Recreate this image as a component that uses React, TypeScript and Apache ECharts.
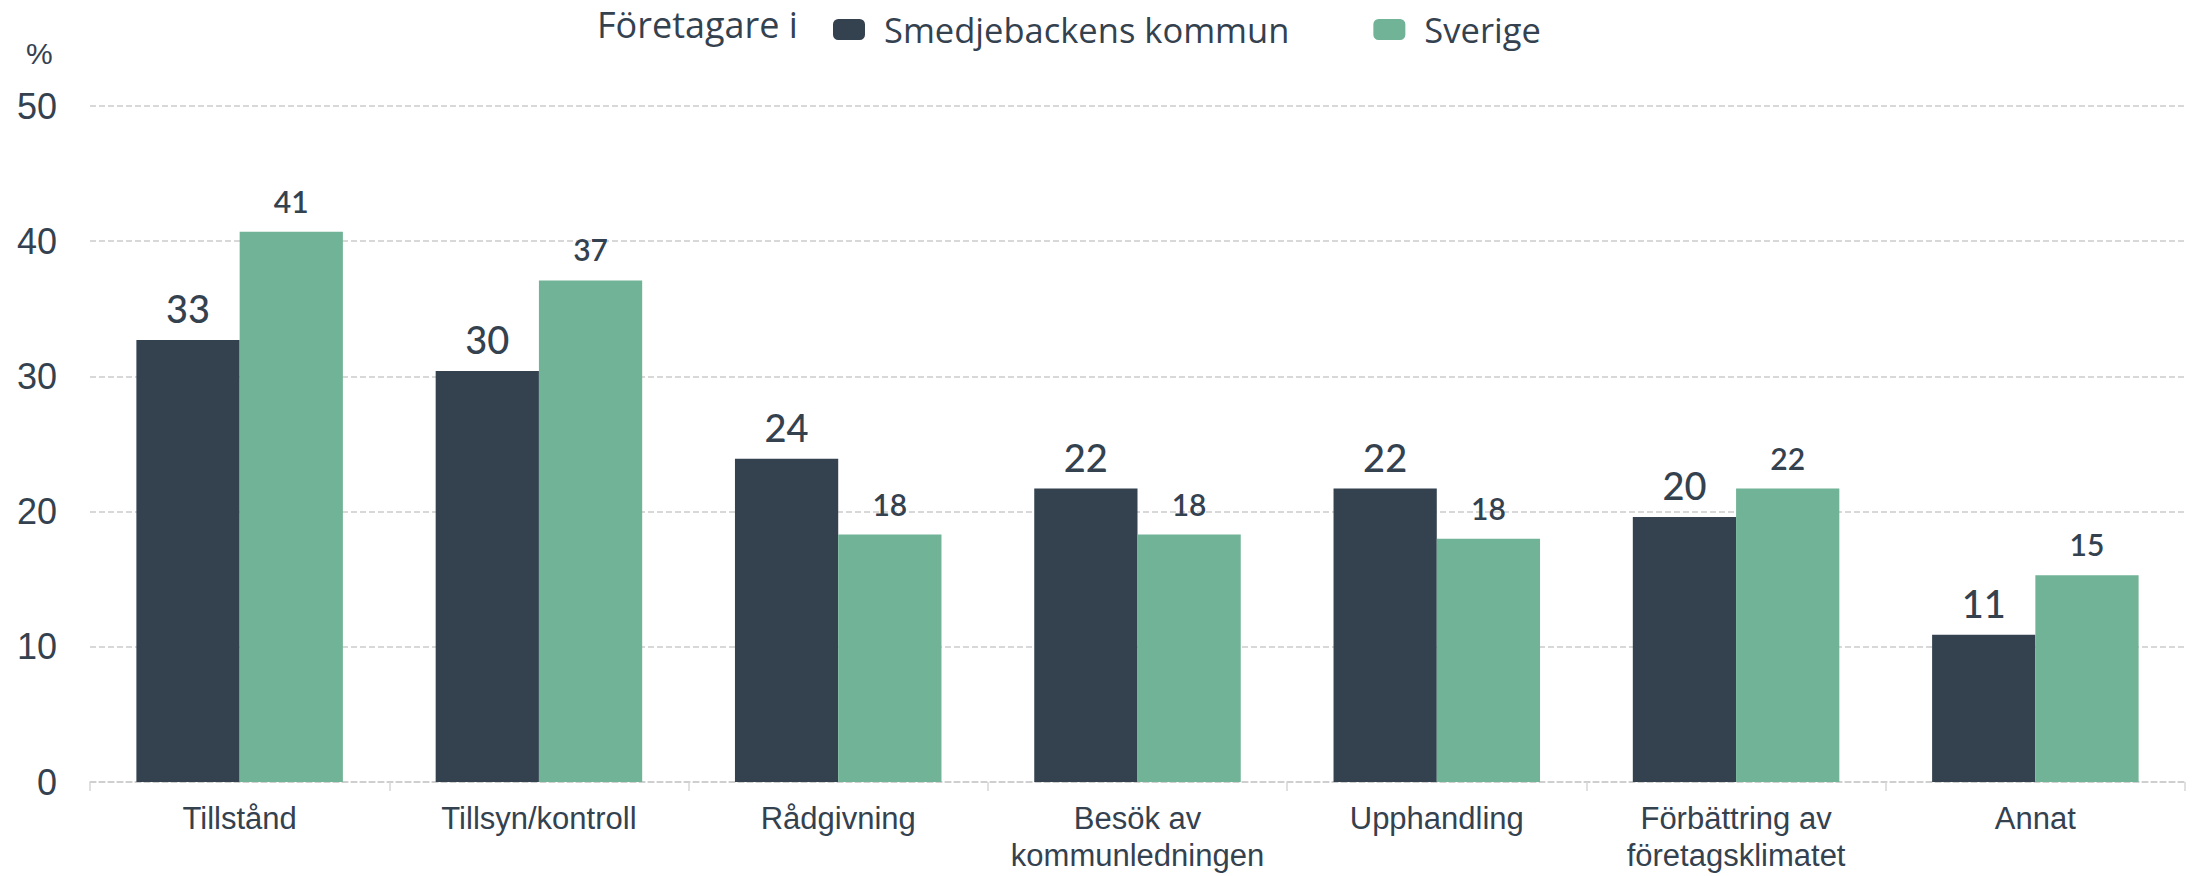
import React, { useEffect, useRef } from "react";
import * as echarts from "echarts";

const categories = [
  "Tillstånd",
  "Tillsyn/kontroll",
  "Rådgivning",
  "Besök av\nkommunledningen",
  "Upphandling",
  "Förbättring av\nföretagsklimatet",
  "Annat",
];
const seriesNames = ["Smedjebackens kommun", "Sverige"];
const kommunValues = [32.7, 30.4, 23.9, 21.7, 21.7, 19.6, 10.9];
const sverigeValues = [40.7, 37.1, 18.3, 18.3, 18.0, 21.7, 15.3];
const yTicks = { min: 0, max: 50, interval: 10 };

const DARK = "#34414f";
const GREEN = "#71b397";
const TEXT = "#34414f";

export default function App() {
  const ref = useRef<HTMLDivElement>(null);
  useEffect(() => {
    document.body.style.margin = "0";
    const chart = echarts.init(ref.current!, null, { renderer: "svg" });
    chart.setOption({
      animation: false,
      backgroundColor: "#ffffff",
      legend: {
        left: 828,
        top: 7,
        itemWidth: 32,
        itemHeight: 21,
        itemGap: 84,
        icon: "roundRect",
        data: seriesNames,
        textStyle: {
          fontFamily: "Open Sans",
          fontSize: 34.5,
          color: TEXT,
          padding: [0, 0, 0, 14],
        },
      },
      graphic: [
        {
          type: "text",
          left: 597,
          top: 6,
          style: {
            text: "Företagare i",
            fontFamily: "Open Sans",
            fontSize: 36,
            fill: TEXT,
          },
        },
        {
          type: "text",
          left: 26,
          top: 38,
          style: {
            text: "%",
            fontFamily: "Liberation Sans",
            fontSize: 30,
            fill: TEXT,
          },
        },
      ],
      grid: { left: 90, right: 8, top: 106, bottom: 94, containLabel: false },
      xAxis: {
        type: "category",
        data: categories,
        boundaryGap: true,
        axisLine: { show: true, lineStyle: { color: "#cccccc", type: "dashed", width: 1.5 } },
        axisTick: { show: true, length: 9, lineStyle: { color: "#d6d6d6", width: 1.5 } },
        axisLabel: {
          fontFamily: "Liberation Sans",
          fontSize: 31,
          color: TEXT,
          margin: 18,
          lineHeight: 37,
          interval: 0,
        },
      },
      yAxis: {
        type: "value",
        min: yTicks.min,
        max: yTicks.max,
        interval: yTicks.interval,
        axisLine: { show: false },
        axisTick: { show: false },
        splitLine: { lineStyle: { color: "#cccccc", type: "dashed", width: 1.5 } },
        axisLabel: {
          fontFamily: "Liberation Sans",
          fontSize: 36,
          color: TEXT,
          margin: 33,
        },
      },
      series: [
        {
          name: seriesNames[0],
          type: "bar",
          data: kommunValues,
          barGap: "0%",
          barCategoryGap: "31%",
          itemStyle: { color: DARK },
          label: {
            show: true,
            position: "top",
            distance: 13,
            fontFamily: "Lato",
            fontSize: 38,
            fontWeight: 500,
            color: TEXT,
            formatter: (p: any) => String(Math.round(p.value)),
          },
        },
        {
          name: seriesNames[1],
          type: "bar",
          data: sverigeValues,
          barGap: "0%",
          barCategoryGap: "31%",
          itemStyle: { color: GREEN },
          label: {
            show: true,
            position: "top",
            distance: 16,
            fontFamily: "Lato",
            fontSize: 30,
            fontWeight: 600,
            color: TEXT,
            formatter: (p: any) => String(Math.round(p.value)),
          },
        },
      ],
    });
    return () => chart.dispose();
  }, []);
  return <div ref={ref} style={{ width: 2193, height: 876 }} />;
}
